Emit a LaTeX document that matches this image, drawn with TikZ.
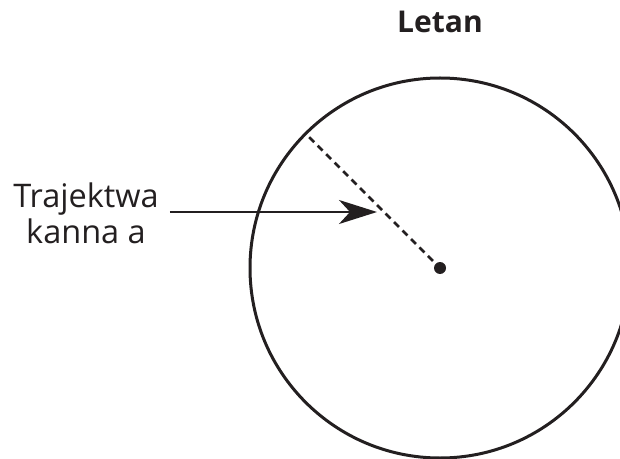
\documentclass[tikz,border=0pt]{standalone}
\usepackage{fontspec}
\setmainfont{Open Sans}
\usetikzlibrary{arrows.meta,calc}
\definecolor{ink}{HTML}{231F20}
\tikzset{
  orbitline/.style={draw=ink, line width=3pt, circle, inner sep=0pt, outer sep=0pt},
  centerdot/.style={fill=ink, circle, inner sep=0pt, minimum size=12pt},
  radius line/.style={draw=ink, line width=2.6pt, dash pattern=on 7pt off 5pt},
  arrowline/.style={draw=ink, line width=2.2pt, -{Stealth[length=38pt, width=24pt, inset=11pt]}},
  lbltext/.style={text=ink, font=\fontsize{32.5}{36}\selectfont, align=center, inner xsep=11pt},
  titletext/.style={text=ink, font=\fontsize{30}{36}\selectfont\bfseries}
}
\begin{document}
\begin{tikzpicture}[x=1pt,y=1pt]
\useasboundingbox (0,0) rectangle (620,458);
\node[orbitline, minimum size=380pt] (orbit) at (440,190) {};
\node[centerdot] (c) at (440,190) {};
\coordinate (r) at ($(c)+(135:185)$);
\draw[radius line] (r) -- (c.135);
\node[lbltext] (lbl) at (86,245) {Trajektwa\\kanna a};
\coordinate (tip) at (377,246);
\draw[arrowline] (lbl.east |- tip) -- (tip);
\node[titletext] (title) at (440,436) {Letan};
\end{tikzpicture}
\end{document}
